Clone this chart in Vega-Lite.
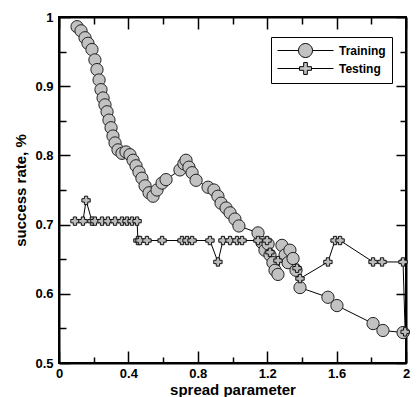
{
  "$schema": "https://vega.github.io/schema/vega-lite/v6.json",
  "width": 347,
  "height": 346,
  "autosize": {"type": "none"},
  "padding": {"left": 59, "top": 17, "right": 11, "bottom": 34},
  "background": "white",
  "config": {
    "view": {"stroke": "black", "strokeWidth": 2},
    "font": "Liberation Sans",
    "axis": {
      "labelFont": "Liberation Sans", "labelFontWeight": "bold", "labelFontSize": 13, "labelColor": "black",
      "titleFont": "Liberation Sans", "titleFontWeight": "bold", "titleFontSize": 15, "titleColor": "black",
      "domainColor": "black", "domainWidth": 2, "tickColor": "black", "tickWidth": 1.5, "grid": false
    },
    "legend": {
      "orient": "none", "legendX": 212, "legendY": 20, "title": null,
      "strokeColor": "black", "fillColor": "white", "padding": 6, "rowPadding": 0,
      "symbolSize": 196, "symbolOffset": 21, "labelOffset": 26, "symbolOpacity": 1, "symbolStrokeWidth": 1,
      "labelFont": "Liberation Sans", "labelFontWeight": "bold", "labelFontSize": 12, "labelColor": "black"
    }
  },
  "data": {"values": [
    {"series": "Training", "x": 0.104, "y": 0.986},
    {"series": "Training", "x": 0.127, "y": 0.980},
    {"series": "Training", "x": 0.150, "y": 0.970},
    {"series": "Training", "x": 0.167, "y": 0.962},
    {"series": "Training", "x": 0.190, "y": 0.953},
    {"series": "Training", "x": 0.207, "y": 0.938},
    {"series": "Training", "x": 0.219, "y": 0.924},
    {"series": "Training", "x": 0.231, "y": 0.909},
    {"series": "Training", "x": 0.242, "y": 0.895},
    {"series": "Training", "x": 0.254, "y": 0.883},
    {"series": "Training", "x": 0.265, "y": 0.873},
    {"series": "Training", "x": 0.277, "y": 0.863},
    {"series": "Training", "x": 0.288, "y": 0.851},
    {"series": "Training", "x": 0.300, "y": 0.840},
    {"series": "Training", "x": 0.311, "y": 0.828},
    {"series": "Training", "x": 0.323, "y": 0.818},
    {"series": "Training", "x": 0.340, "y": 0.808},
    {"series": "Training", "x": 0.363, "y": 0.803},
    {"series": "Training", "x": 0.386, "y": 0.805},
    {"series": "Training", "x": 0.409, "y": 0.801},
    {"series": "Training", "x": 0.427, "y": 0.793},
    {"series": "Training", "x": 0.444, "y": 0.785},
    {"series": "Training", "x": 0.461, "y": 0.776},
    {"series": "Training", "x": 0.478, "y": 0.767},
    {"series": "Training", "x": 0.496, "y": 0.756},
    {"series": "Training", "x": 0.519, "y": 0.746},
    {"series": "Training", "x": 0.542, "y": 0.741},
    {"series": "Training", "x": 0.565, "y": 0.750},
    {"series": "Training", "x": 0.594, "y": 0.760},
    {"series": "Training", "x": 0.617, "y": 0.765},
    {"series": "Training", "x": 0.697, "y": 0.779},
    {"series": "Training", "x": 0.720, "y": 0.788},
    {"series": "Training", "x": 0.732, "y": 0.793},
    {"series": "Training", "x": 0.749, "y": 0.783},
    {"series": "Training", "x": 0.767, "y": 0.775},
    {"series": "Training", "x": 0.790, "y": 0.764},
    {"series": "Training", "x": 0.859, "y": 0.754},
    {"series": "Training", "x": 0.893, "y": 0.750},
    {"series": "Training", "x": 0.916, "y": 0.741},
    {"series": "Training", "x": 0.934, "y": 0.731},
    {"series": "Training", "x": 0.963, "y": 0.724},
    {"series": "Training", "x": 0.986, "y": 0.717},
    {"series": "Training", "x": 1.014, "y": 0.708},
    {"series": "Training", "x": 1.037, "y": 0.698},
    {"series": "Training", "x": 1.147, "y": 0.688},
    {"series": "Training", "x": 1.170, "y": 0.674},
    {"series": "Training", "x": 1.187, "y": 0.663},
    {"series": "Training", "x": 1.205, "y": 0.672},
    {"series": "Training", "x": 1.216, "y": 0.656},
    {"series": "Training", "x": 1.233, "y": 0.645},
    {"series": "Training", "x": 1.245, "y": 0.634},
    {"series": "Training", "x": 1.262, "y": 0.628},
    {"series": "Training", "x": 1.285, "y": 0.670},
    {"series": "Training", "x": 1.303, "y": 0.656},
    {"series": "Training", "x": 1.320, "y": 0.645},
    {"series": "Training", "x": 1.331, "y": 0.663},
    {"series": "Training", "x": 1.349, "y": 0.651},
    {"series": "Training", "x": 1.366, "y": 0.634},
    {"series": "Training", "x": 1.389, "y": 0.609},
    {"series": "Training", "x": 1.550, "y": 0.595},
    {"series": "Training", "x": 1.602, "y": 0.583},
    {"series": "Training", "x": 1.810, "y": 0.557},
    {"series": "Training", "x": 1.867, "y": 0.547},
    {"series": "Training", "x": 1.983, "y": 0.544},
    {"series": "Testing", "x": 0.092, "y": 0.705},
    {"series": "Testing", "x": 0.138, "y": 0.705},
    {"series": "Testing", "x": 0.156, "y": 0.735},
    {"series": "Testing", "x": 0.19, "y": 0.705},
    {"series": "Testing", "x": 0.207, "y": 0.705},
    {"series": "Testing", "x": 0.248, "y": 0.705},
    {"series": "Testing", "x": 0.282, "y": 0.705},
    {"series": "Testing", "x": 0.323, "y": 0.705},
    {"series": "Testing", "x": 0.363, "y": 0.705},
    {"series": "Testing", "x": 0.392, "y": 0.705},
    {"series": "Testing", "x": 0.421, "y": 0.705},
    {"series": "Testing", "x": 0.45, "y": 0.705},
    {"series": "Testing", "x": 0.455, "y": 0.677},
    {"series": "Testing", "x": 0.467, "y": 0.677},
    {"series": "Testing", "x": 0.507, "y": 0.677},
    {"series": "Testing", "x": 0.594, "y": 0.677},
    {"series": "Testing", "x": 0.709, "y": 0.677},
    {"series": "Testing", "x": 0.738, "y": 0.677},
    {"series": "Testing", "x": 0.767, "y": 0.677},
    {"series": "Testing", "x": 0.87, "y": 0.677},
    {"series": "Testing", "x": 0.916, "y": 0.646},
    {"series": "Testing", "x": 0.945, "y": 0.677},
    {"series": "Testing", "x": 0.986, "y": 0.677},
    {"series": "Testing", "x": 1.026, "y": 0.677},
    {"series": "Testing", "x": 1.055, "y": 0.677},
    {"series": "Testing", "x": 1.147, "y": 0.677},
    {"series": "Testing", "x": 1.199, "y": 0.677},
    {"series": "Testing", "x": 1.216, "y": 0.66},
    {"series": "Testing", "x": 1.262, "y": 0.648},
    {"series": "Testing", "x": 1.372, "y": 0.637},
    {"series": "Testing", "x": 1.389, "y": 0.622},
    {"series": "Testing", "x": 1.55, "y": 0.646},
    {"series": "Testing", "x": 1.591, "y": 0.677},
    {"series": "Testing", "x": 1.62, "y": 0.677},
    {"series": "Testing", "x": 1.81, "y": 0.646},
    {"series": "Testing", "x": 1.862, "y": 0.646},
    {"series": "Testing", "x": 1.983, "y": 0.646},
    {"series": "Testing", "x": 1.995, "y": 0.545}
  ]},
  "resolve": {"axis": {"x": "independent", "y": "independent"}},
  "layer": [
    {
      "mark": {"type": "line", "color": "black", "strokeWidth": 1},
      "encoding": {
        "x": {"field": "x", "type": "quantitative", "scale": {"domain": [0, 2], "nice": false, "zero": false},
          "axis": {"orient": "bottom", "title": "spread parameter", "values": [0, 0.2, 0.4, 0.6, 0.8, 1, 1.2, 1.4, 1.6, 1.8, 2],
            "labelExpr": "abs(round(datum.value/0.4)*0.4 - datum.value) < 1e-6 ? format(datum.value, '~g') : ''",
            "tickSize": {"condition": {"test": "abs(round(datum.value/0.4)*0.4 - datum.value) < 1e-6", "value": -12}, "value": -6},
            "labelPadding": 16, "titlePadding": 2, "labelFlush": false}},
        "y": {"field": "y", "type": "quantitative", "scale": {"domain": [0.5, 1], "nice": false, "zero": false},
          "axis": {"orient": "left", "title": "success rate, %", "values": [0.5, 0.55, 0.6, 0.65, 0.7, 0.75, 0.8, 0.85, 0.9, 0.95, 1],
            "labelExpr": "abs(round(datum.value*10) - datum.value*10) < 1e-6 ? format(datum.value, '~g') : ''",
            "tickSize": {"condition": {"test": "abs(round(datum.value*10) - datum.value*10) < 1e-6", "value": -11}, "value": -7},
            "labelPadding": 17, "titlePadding": 6, "labelFlush": false}},
        "detail": {"field": "series"}
      }
    },
    {
      "transform": [{"filter": "datum.series === 'Training'"}],
      "mark": {"type": "point", "shape": "circle", "filled": true, "size": 150, "fill": "#c2c2c2", "stroke": "#222222", "strokeWidth": 1, "opacity": 1},
      "encoding": {
        "x": {"field": "x", "type": "quantitative", "axis": null},
        "y": {"field": "y", "type": "quantitative", "axis": null}
      }
    },
    {
      "transform": [{"filter": "datum.series === 'Testing'"}],
      "mark": {"type": "point", "shape": "cross", "filled": true, "size": 70, "fill": "#bbbbbb", "stroke": "#111111", "strokeWidth": 1, "opacity": 1},
      "encoding": {
        "x": {"field": "x", "type": "quantitative",
          "axis": {"orient": "top", "title": null, "values": [0, 0.2, 0.4, 0.6, 0.8, 1, 1.2, 1.4, 1.6, 1.8, 2], "labels": false,
            "tickSize": {"condition": {"test": "abs(round(datum.value/0.4)*0.4 - datum.value) < 1e-6", "value": -12}, "value": -7}}},
        "y": {"field": "y", "type": "quantitative",
          "axis": {"orient": "right", "title": null, "values": [0.5, 0.55, 0.6, 0.65, 0.7, 0.75, 0.8, 0.85, 0.9, 0.95, 1], "labels": false,
            "tickSize": {"condition": {"test": "abs(round(datum.value*10) - datum.value*10) < 1e-6", "value": -10}, "value": -6}}}
      }
    },
    {
      "transform": [{"filter": "datum.series === 'legend-only'"}],
      "mark": {"type": "point", "filled": true, "size": 196, "color": "black", "fill": "#c2c2c2", "stroke": "black", "strokeWidth": 1, "opacity": 1},
      "encoding": {
        "x": {"field": "x", "type": "quantitative", "axis": null},
        "y": {"field": "y", "type": "quantitative", "axis": null},
        "shape": {"field": "series", "type": "nominal",
          "scale": {"domain": ["Training", "Testing"],
            "range": ["M-4,0H-1M1,0H4M-1,0A1,1 0 1,0 1,0A1,1 0 1,0 -1,0Z",
                      "M-4,0H-0.85M0.85,0H4M-0.26,-0.85H0.26V-0.26H0.85V0.26H0.26V0.85H-0.26V0.26H-0.85V-0.26H-0.26Z"]},
          "legend": {"encode": {"symbols": {"stroke": {"value": "black"}, "strokeWidth": {"value": 1}, "fill": {"value": "#c2c2c2"}}}}}
      }
    }
  ]
}
